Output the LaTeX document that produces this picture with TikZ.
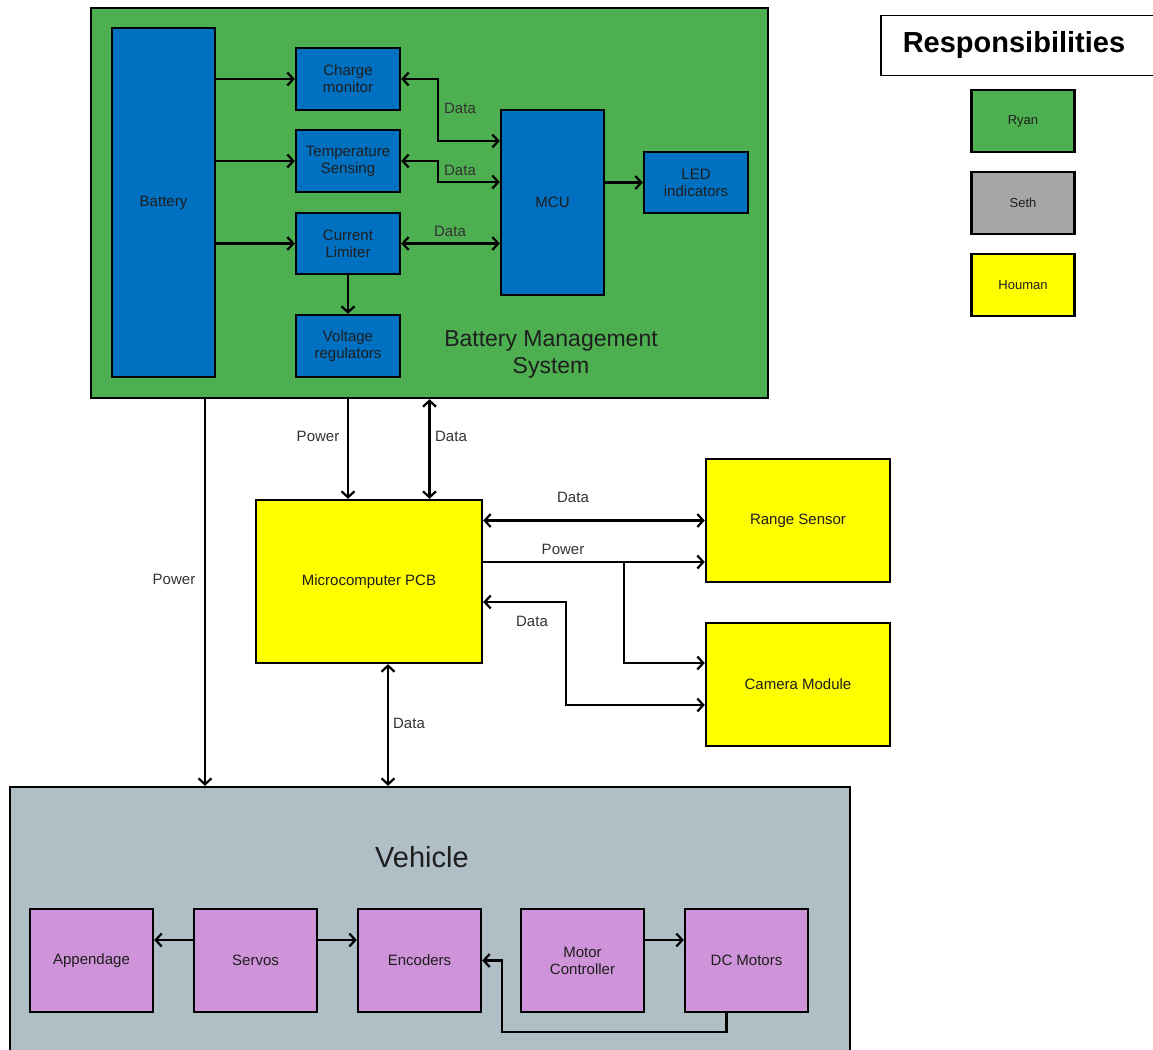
\documentclass[tikz,border=0pt]{standalone}
\usepackage{fontspec}
\setmainfont{Liberation Sans}
\usetikzlibrary{arrows.meta}
\definecolor{bmsgreen}{RGB}{77,175,80}
\definecolor{bmsblue}{RGB}{0,112,192}
\definecolor{pcbyellow}{RGB}{255,255,0}
\definecolor{sethgray}{RGB}{166,166,166}
\definecolor{vehgray}{RGB}{176,190,198}
\definecolor{vehpurple}{RGB}{206,147,216}
\definecolor{txtdark}{RGB}{30,30,30}
\definecolor{lbldark}{RGB}{50,50,50}
\tikzset{
  blk/.style={draw=black, line width=2.4pt, inner sep=0pt, align=center, text=txtdark,
    font=\fontsize{15}{17}\selectfont},
  conn/.style={line width=2.2pt, draw=black},
  arr/.style={conn, -{Straight Barb[length=6pt,width=13pt,line width=2.2pt]}},
  darr/.style={conn, {Straight Barb[length=6pt,width=13pt,line width=2.2pt]}-{Straight Barb[length=6pt,width=13pt,line width=2.2pt]}},
  lbl/.style={text=lbldark, font=\fontsize{15}{17}\selectfont, inner sep=1pt}
}
\begin{document}
\begin{tikzpicture}[x=1pt,y=-1pt]
\useasboundingbox (0,0) rectangle (1153,1049);
% Battery Management System
\node[blk, fill=bmsgreen, minimum width=677pt, minimum height=390pt] (bms) at (429.5,203) {};
\node[text=txtdark, font=\fontsize{23}{27}\selectfont, align=center] (bmslbl) at (551,354) {Battery Management\\System};
\node[blk, fill=bmsblue, minimum width=103pt, minimum height=349pt] (bat) at (163.5,202.5) {Battery};
\node[blk, fill=bmsblue, minimum width=104pt, minimum height=62pt] (chg) at (348,79) {Charge\\monitor};
\node[blk, fill=bmsblue, minimum width=104pt, minimum height=62pt] (tmp) at (348,161) {Temperature\\Sensing};
\node[blk, fill=bmsblue, minimum width=104pt, minimum height=61pt] (cur) at (348,243.5) {Current\\Limiter};
\node[blk, fill=bmsblue, minimum width=104pt, minimum height=62pt] (vreg) at (348,346) {Voltage\\regulators};
\node[blk, fill=bmsblue, minimum width=103pt, minimum height=185pt] (mcu) at (552.5,202.5) {MCU};
\node[blk, fill=bmsblue, minimum width=104pt, minimum height=61pt] (led) at (696,182.5) {LED\\indicators};

\draw[arr] (bat.east |- chg.west) -- (chg.west);
\draw[arr] (bat.east |- tmp.west) -- (tmp.west);
\draw[arr] (bat.east |- cur.west) -- (cur.west);
\draw[darr] (chg.east) -- ++(37,0) |- ([yshift=61.5pt]mcu.west);
\draw[darr] (tmp.east) -- ++(37,0) |- ([yshift=20.5pt]mcu.west);
\draw[darr] (cur.east) -- (mcu.west |- cur.east);
\draw[arr] (mcu.east |- led.west) -- (led.west);
\draw[arr] (cur.south) -- (vreg.north);
\node[lbl] (d1) at (460,108) {Data};
\node[lbl] (d2) at (460,170) {Data};
\node[lbl] (d3) at (450,231) {Data};

% Legend
\node[draw=black, line width=1.5pt, anchor=west, text width=245pt, align=left, inner xsep=22pt,
  minimum height=60pt, font=\fontsize{29}{32}\bfseries\selectfont] (resp) at (880,45.5) {Responsibilities};
\node[blk, fill=bmsgreen, minimum width=103pt, minimum height=62pt, font=\fontsize{13}{15}\selectfont] (ryan) at (1023,121) {Ryan};
\node[blk, fill=sethgray, minimum width=103pt, minimum height=62pt, font=\fontsize{13}{15}\selectfont] (seth) at (1023,203) {Seth};
\node[blk, fill=pcbyellow, minimum width=103pt, minimum height=62pt, font=\fontsize{13}{15}\selectfont] (houman) at (1023,285) {Houman};

% Middle
\node[blk, fill=pcbyellow, minimum width=226pt, minimum height=163pt] (pcb) at (369,581.5) {Microcomputer PCB};
\node[blk, fill=pcbyellow, minimum width=184pt, minimum height=123pt] (range) at (798,520.5) {Range Sensor};
\node[blk, fill=pcbyellow, minimum width=184pt, minimum height=123pt] (cam) at (798,684.5) {Camera Module};

% Vehicle
\node[blk, fill=vehgray, minimum width=840pt, minimum height=275pt] (veh) at (430,924.5) {};
\node[text=txtdark, font=\fontsize{29}{32}\selectfont] (vehlbl) at (422,857) {Vehicle};
\node[blk, fill=vehpurple, minimum width=123pt, minimum height=103pt] (app) at (91.5,960.5) {Appendage};
\node[blk, fill=vehpurple, minimum width=123pt, minimum height=103pt] (srv) at (255.5,960.5) {Servos};
\node[blk, fill=vehpurple, minimum width=123pt, minimum height=103pt] (enc) at (419.5,960.5) {Encoders};
\node[blk, fill=vehpurple, minimum width=123pt, minimum height=103pt] (mc) at (582.5,960.5) {Motor\\Controller};
\node[blk, fill=vehpurple, minimum width=123pt, minimum height=103pt] (dc) at (746.5,960.5) {DC Motors};

% connectors middle
\coordinate (pw) at (205,0);
\coordinate (dv) at (388,0);
\coordinate (br) at (624,562);
\draw[arr] (bms.south -| chg.south) -- (pcb.north -| chg.south);
\draw[darr] (bms.south) -- (pcb.north -| bms.south);
\draw[arr] (bms.south -| pw) -- (veh.north -| pw);
\draw[darr] (pcb.south -| dv) -- (veh.north -| dv);
\draw[darr] (pcb.east |- range.west) -- (range.west);
\draw[arr] (pcb.east |- br) -- (range.west |- br);
\draw[arr] (br) |- ([yshift=21.5pt]cam.west);
\draw[darr] ([yshift=-20.5pt]pcb.east) -- ++(83,0) |- ([yshift=-20.5pt]cam.west);
\node[lbl] (p1) at (318,436) {Power};
\node[lbl] (d4) at (451,436) {Data};
\node[lbl] (d5) at (573,497) {Data};
\node[lbl] (p2) at (563,549) {Power};
\node[lbl] (d6) at (532,621) {Data};
\node[lbl] (p3) at (174,579) {Power};
\node[lbl] (d7) at (409,723) {Data};

% connectors vehicle
\draw[arr] ([yshift=20.5pt]srv.west) -- ([yshift=20.5pt]app.east);
\draw[arr] ([yshift=20.5pt]srv.east) -- ([yshift=20.5pt]enc.west);
\draw[arr] ([yshift=20.5pt]mc.east) -- ([yshift=20.5pt]dc.west);
\draw[arr] ([xshift=-20pt]dc.south) -- ++(0,19) -| ([xshift=20pt]enc.east) -- (enc.east);
\end{tikzpicture}
\end{document}
